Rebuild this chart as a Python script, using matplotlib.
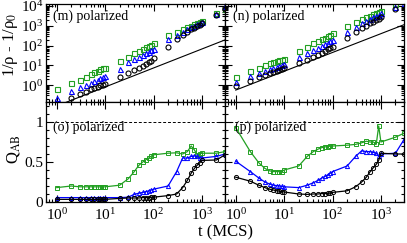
import numpy as np
import matplotlib
matplotlib.use("Agg")
from matplotlib import pyplot as plt
from matplotlib.ticker import MultipleLocator, LogLocator, NullFormatter

plt.rcParams['font.family'] = ['Liberation Serif', 'DejaVu Serif']
plt.rcParams['mathtext.fontset'] = 'stix'

# tempi (MCS)
t = [1, 2, 3, 4, 5, 6, 7, 8, 9, 10,
     20, 30, 40, 50, 60, 70, 80, 90, 100,
     200, 300, 400, 500, 600, 700, 800, 900, 1000,
     2000, 3000]

# (m) 1/rho - 1/rho0
m_green = [0.6, 1.3, 1.9, 2.6, 3.6, 4.6, 5.3, 6.2, 7.0, 7.5,
           17, 27, 40, 53, 66, 81, 94, 110, 129,
           340, 500, 690, 830, 1000, 1180, 1320, 1550, 1800,
           4400, 7000]
m_blue = [0.23, 0.52, 0.76, 1.0, 1.3, 1.6, 1.9, 2.2, 2.5, 2.9,
          6.2, 14, 21, 27, 33, 40, 49, 59, 66,
          205, 350, 500, 660, 830, 1000, 1180, 1320, 1490,
          4000, 10000]
m_black = [np.nan, 0.23, 0.34, 0.46, 0.6, 0.7, 0.82, 0.96, 1.07, 1.2,
           2.6, 4.2, 5.7, 7.5, 9.5, 11.5, 14, 17, 22.5,
           87, 205, 340, 500, 660, 790, 980, 1130, 1320,
           3500, 7000]

# (n) 1/rho - 1/rho0
n_green = [2.45, 5.1, 7.5, 10.3, 12.5, 14, 15.8, 17.8, 19, 21,
           53, 87, 129, 170, 205, 250, 300, 350, 415,
           980, 1600, 2100, 2700, 3200, 3800, 4300, 4800, 5600,
           12600, np.nan]
n_blue = [1.5, 2.9, 4.2, 5.3, 6.5, 7.5, 8.5, 9.5, 10.7, 11.5,
          27, 43, 59, 78, 98, 120, 138, 163, 190,
          500, 900, 1320, 1740, 2200, 2700, 3100, 3600, 4300,
          9300, 14700]
n_black = [0.93, 1.7, 2.45, 3.2, 3.9, 4.6, 5.1, 5.7, 6.5, 7.0,
           12.5, 18.5, 25, 33, 43, 53, 64, 78, 87,
           250, 470, 740, 1000, 1320, 1600, 1900, 2200, 2700,
           6800, np.nan]

# rette di riferimento (coeff, esponente)
m_line = (0.088, 0.96)
n_line = (0.56, 0.95)
line_t = [1.0, 3000.0]

# (o) Q_AB
o_green = [0.18, 0.20, 0.19, 0.19, 0.19, 0.19, 0.19, 0.19, 0.19, 0.19,
           0.21, 0.29, 0.38, 0.46, 0.50, 0.53, 0.55, 0.575, 0.59,
           0.61, 0.615, 0.60, 0.63, 0.70, 0.65, 0.59, 0.60, 0.61,
           0.61, 0.63]
o_blue = [0.055, 0.055, 0.055, 0.055, 0.055, 0.055, 0.055, 0.055, 0.055, 0.055,
          0.055, 0.06, 0.096, 0.11, 0.12, 0.13, 0.14, 0.15, 0.16,
          0.20, 0.38, 0.55, 0.55, 0.57, 0.575, 0.57, 0.55, 0.55,
          0.57, 0.60]
o_black = [0.033, 0.033, 0.033, 0.033, 0.033, 0.033, 0.033, 0.033, 0.033, 0.033,
           0.045, 0.05, 0.05, 0.05, 0.055, 0.055, 0.055, 0.06, 0.06,
           0.08, 0.10, 0.18, 0.27, 0.36, 0.42, 0.46, 0.49, 0.52,
           0.525, 0.59]

# (p) Q_AB
p_green = [0.93, 0.63, 0.49, 0.42, 0.39, 0.38, 0.38, 0.38, 0.38, 0.40,
           0.45, 0.57, 0.63, 0.66, 0.68, 0.69, 0.69, 0.70, 0.70,
           0.71, 0.72, 0.74, 0.76, 0.75, 0.75, 0.72, 0.95, 0.75,
           0.81, 0.86]
p_blue = [0.51, 0.38, 0.30, 0.25, 0.225, 0.21, 0.205, 0.20, 0.195, 0.19,
          0.18, 0.21, 0.24, 0.27, 0.30, 0.32, 0.34, 0.36, 0.38,
          0.45, 0.57, 0.64, 0.63, 0.63, 0.62, 0.61, 0.57, 0.60,
          0.61, 0.78]
p_black = [0.31, 0.26, 0.21, 0.18, 0.16, 0.15, 0.14, 0.135, 0.13, 0.125,
           0.10, 0.095, 0.10, 0.10, 0.105, 0.105, 0.11, 0.11, 0.12,
           0.14, 0.19, 0.25, 0.31, 0.38, 0.43, 0.47, 0.52, 0.61,
           0.60, 0.60]

green = '#22a022'
blue = '#0000ff'

fig = plt.figure(figsize=(4.07, 2.43), dpi=100)
W = 179 / 407
x0 = 46 / 407
x1 = 225 / 407
yb = 1 - 202 / 243
hb = 100 / 243
yt = 1 - 102 / 243
ht = 98 / 243

ax_m = fig.add_axes([x0, yt, W, ht])
ax_n = fig.add_axes([x1, yt, W, ht])
ax_o = fig.add_axes([x0, yb, W, hb])
ax_p = fig.add_axes([x1, yb, W, hb])

tt = np.array(t, dtype=float)
lt = np.geomspace(line_t[0], line_t[1], 50)

# pannelli in alto: solo simboli
for ax, gr, bl, bk, (c, e) in [(ax_m, m_green, m_blue, m_black, m_line),
                                (ax_n, n_green, n_blue, n_black, n_line)]:
    ax.plot(tt, gr, 's', mfc='none', mec=green, ms=3.6, mew=0.8)
    ax.plot(tt, bl, '^', mfc='none', mec=blue, ms=3.6, mew=0.8)
    ax.plot(tt, bk, 'o', mfc='none', mec='black', ms=3.6, mew=0.8)
    ax.plot(lt, c * lt**e, color='black', lw=0.8)
    ax.set_xscale('log')
    ax.set_yscale('log')
    ax.set_ylim(0.14, 1.25e4)
    ax.xaxis.set_major_formatter(NullFormatter())
    ax.yaxis.set_major_locator(LogLocator(base=10, numticks=10))
    ax.yaxis.set_minor_locator(LogLocator(base=10, subs=np.arange(2, 10), numticks=10))

# pannelli in basso: simboli + linee
for ax, gr, bl, bk in [(ax_o, o_green, o_blue, o_black),
                       (ax_p, p_green, p_blue, p_black)]:
    ax.axhline(1, color='black', lw=0.7, ls=(0, (3, 2)))
    ax.plot(tt, gr, '-s', color=green, mfc='none', mec=green, ms=3, mew=0.7, lw=0.9)
    ax.plot(tt, bl, '-^', color=blue, mfc='none', mec=blue, ms=3, mew=0.7, lw=0.9)
    ax.plot(tt, bk, '-o', color='black', mfc='none', mec='black', ms=3, mew=0.7, lw=0.9)
    ax.set_xscale('log')
    ax.set_ylim(0, 1.25)
    ax.yaxis.set_major_locator(MultipleLocator(0.5))
    ax.yaxis.set_minor_locator(MultipleLocator(0.1))
    ax.yaxis.set_major_formatter(plt.FuncFormatter(lambda v, p: '%g' % v))

for ax in [ax_m, ax_n, ax_o, ax_p]:
    ax.set_xlim(0.6, 3000)
    ax.xaxis.set_major_locator(LogLocator(base=10, numticks=10))
    ax.xaxis.set_minor_locator(LogLocator(base=10, subs=np.arange(2, 10), numticks=10))
    ax.tick_params(which='both', direction='in', top=True, right=True, labelsize=11, width=0.8)
    ax.tick_params(which='major', length=5)
    ax.tick_params(which='minor', length=2.5)
    ax.tick_params(axis='y', pad=2)
    for s in ax.spines.values():
        s.set_linewidth(0.9)

for ax in [ax_n, ax_p]:
    ax.yaxis.set_major_formatter(NullFormatter())

# etichette dei pannelli (in basso stanno sotto la linea tratteggiata)
for ax, lab, xl, yl in [(ax_m, '(m) polarized', 0.04, 0.87), (ax_n, '(n) polarized', 0.045, 0.87),
                        (ax_o, '(o) polarized', 0.04, 0.75), (ax_p, '(p) polarized', 0.055, 0.75)]:
    ax.text(xl, yl, lab, transform=ax.transAxes, fontsize=10, va='center')

fig.text(11 / 407, 1 - 45 / 243, '1/ρ - 1/ρ$_0$', rotation=90, ha='center', va='center', fontsize=12)
fig.text(13 / 407, 1 - 149 / 243, 'Q$_{\\rm AB}$', rotation=90, ha='center', va='center', fontsize=12)
fig.text(225 / 407, 1 - 232 / 243, 't (MCS)', ha='center', va='center', fontsize=12)

plt.savefig('out.png', dpi=100)
